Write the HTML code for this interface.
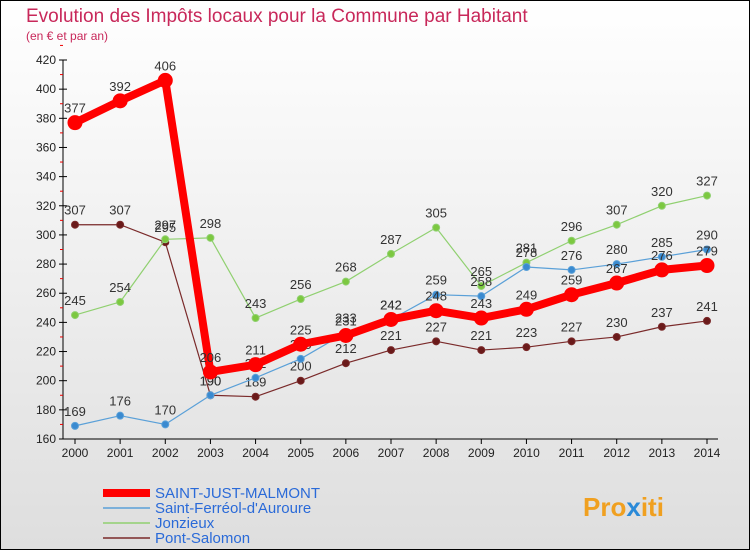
<!DOCTYPE html>
<html><head><meta charset="utf-8"><style>
body{margin:0;width:750px;height:550px;overflow:hidden;font-family:"Liberation Sans",sans-serif}
svg{display:block}
</style></head><body>
<svg width="750" height="550" xmlns="http://www.w3.org/2000/svg">
<defs><linearGradient id="bg" x1="0" y1="0" x2="0" y2="1"><stop offset="0" stop-color="#ffffff"/><stop offset="1" stop-color="#dedede"/></linearGradient></defs>
<rect x="0.5" y="0.5" width="749" height="549" fill="url(#bg)" stroke="#000"/>
<text x="26" y="22" font-size="19" fill="#c8285a">Evolution des Impôts locaux pour la Commune par Habitant</text>
<text x="26" y="40" font-size="12" fill="#c8285a">(en € et par an)</text>
<g id="axes"></g>
<g id="series"></g>
<g id="legend"></g>
<text x="583" y="516" font-size="26" font-weight="bold" fill="#f0a020">Pro<tspan fill="#2a8ad8">x</tspan>iti</text>
</svg>
<script>
const years=[2000,2001,2002,2003,2004,2005,2006,2007,2008,2009,2010,2011,2012,2013,2014];
const yTicks=[160,180,200,220,240,260,280,300,320,340,360,380,400,420];
const sjm=[377,392,406,206,211,225,231,242,248,243,249,259,267,276,279];
const sf=[169,176,170,190,202,215,233,242,259,258,278,276,280,285,290];
const jon=[245,254,297,298,243,256,268,287,305,265,281,296,307,320,327];
const ps=[307,307,295,190,189,200,212,221,227,221,223,227,230,237,241];
const seriesNames=["SAINT-JUST-MALMONT","Saint-Ferréol-d'Auroure","Jonzieux","Pont-Salomon"];
const NS="http://www.w3.org/2000/svg";
const X=i=>75+i*(707-75)/14;
const Y=v=>439-(v-160)*(439-60)/260;
function mk(t,a,p){const e=document.createElementNS(NS,t);for(const k in a)e.setAttribute(k,a[k]);p.appendChild(e);return e;}
const ax=document.getElementById('axes');
const yAxis=mk('line',{x1:63,y1:60,x2:63,y2:439,stroke:'#000'},ax);


const xAxis=mk('line',{x1:63,y1:439,x2:718,y2:439,stroke:'#000'},ax);


yTicks.forEach(v=>{
  mk('line',{x1:59,y1:Y(v),x2:67,y2:Y(v),stroke:'#000'},ax);
  mk('line',{x1:60,y1:Y(v+10),x2:63,y2:Y(v+10),stroke:'#e00'},ax);
  const t=mk('text',{x:56,y:Y(v)+4,'font-size':12,'text-anchor':'end',fill:'#222'},ax);
  t.textContent=v;
  
  
});
years.forEach((y,i)=>{
  mk('line',{x1:X(i),y1:439,x2:X(i),y2:444,stroke:'#000'},ax);
  const t=mk('text',{x:X(i),y:457,'font-size':12,'text-anchor':'middle',fill:'#222'},ax);
  t.textContent=y;
  
  
});
const sg=document.getElementById('series');
function draw(data,color,w,r,name,dot){
  const g=mk('g',{},sg);
  
  
  mk('polyline',{points:data.map((v,i)=>X(i)+','+Y(v)).join(' '),fill:'none',stroke:color,'stroke-width':w,'stroke-linejoin':'round'},g);
  data.forEach((v,i)=>{
    const c=mk('circle',{cx:X(i),cy:Y(v),r:r,fill:dot,stroke:color,'stroke-width':1},g);
    
    
    const t=mk('text',{x:X(i),y:Y(v)-10,'font-size':13,'text-anchor':'middle',fill:'#333'},g);
    t.textContent=v;
    
    
  });
}
draw(ps,'#7a2a2a',1.2,3.5,'pont-salomon-series','#6a1a1a');
draw(jon,'#90d070',1.2,3.5,'jonzieux-series','#7cc840');
draw(sf,'#5aa0d8',1.2,3.5,'saint-ferreol-series','#3a8ad0');
draw(sjm,'#ff0000',8,7,'saint-just-malmont-series','#ff0000');
const lg=document.getElementById('legend');
const lc=['#ff0000','#5aa0d8','#90d070','#7a2a2a'],lw=[8,1.5,1.5,1.5];
seriesNames.forEach((n,i)=>{
  const yy=493+i*15;
  const g=mk('g',{},lg);
  
  
  mk('line',{x1:103,y1:yy,x2:150,y2:yy,stroke:lc[i],'stroke-width':lw[i]},g);
  const t=mk('text',{x:155,y:yy+5,'font-size':15,fill:'#2a6ad8'},g);
  t.textContent=n;
});
</script>
</body></html>
